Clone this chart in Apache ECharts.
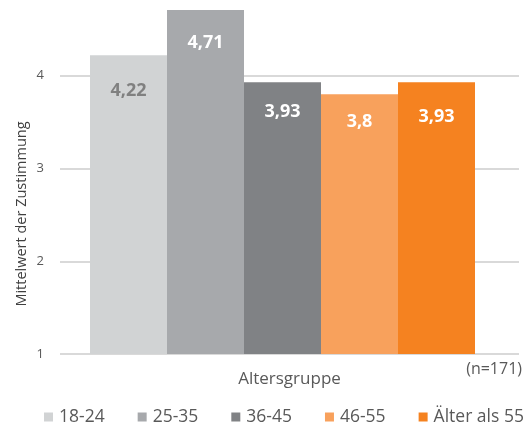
<!DOCTYPE html>
<html>
<head>
<meta charset="utf-8">
<script src="https://cdn.jsdelivr.net/npm/echarts@6/dist/echarts.min.js"></script>
<style>html,body{margin:0;padding:0;background:#fff}#c{width:532px;height:428px}</style>
</head>
<body>
<div id="c"></div>
<script>
const categories = ['Altersgruppe'];
const groups = ['18-24', '25-35', '36-45', '46-55', 'Älter als 55'];
const values = [4.22, 4.71, 3.93, 3.8, 3.93];
const colors = ['#D1D3D4', '#A7A9AC', '#808285', '#F8A15C', '#F58220'];
const labelColors = ['#808080', '#ffffff', '#ffffff', '#ffffff', '#ffffff'];
const labelDistances = [27, 24, 21, 19, 26];
const yMin = 1;
const yMax = 4.72;
const note = '(n=171)';
const yName = 'Mittelwert der Zustimmung';
const FONT = '"Open Sans", sans-serif';

const series = groups.map((g, i) => ({
  name: g,
  type: 'bar',
  barWidth: 77,
  barGap: 0,
  data: [values[i]],
  itemStyle: { color: colors[i] },
  label: {
    show: true,
    position: 'insideTop',
    distance: labelDistances[i],
    color: labelColors[i],
    fontFamily: FONT,
    fontWeight: 'bold',
    fontSize: 18,
    formatter: p => String(p.value).replace('.', ',')
  }
}));
// spacer series (no data) to reproduce the slight left offset of the bar group
series.push({ name: '_spacer', type: 'bar', barWidth: 14, barGap: 0, data: [null], silent: true });

const chart = echarts.init(document.getElementById('c'), null, { renderer: 'canvas' });
chart.setOption({
  animation: false,
  backgroundColor: '#fff',
  grid: { left: 60, right: 13, top: 9, bottom: 74, containLabel: false },
  xAxis: {
    type: 'category',
    data: categories,
    axisLine: { show: false },
    axisTick: { show: false },
    axisLabel: { margin: 17, color: '#595959', fontFamily: FONT, fontSize: 17 }
  },
  yAxis: {
    type: 'value',
    min: yMin,
    max: yMax,
    interval: 1,
    axisLine: { show: false },
    axisTick: { show: false },
    axisLabel: { margin: 16, color: '#595959', fontFamily: FONT, fontSize: 13, showMaxLabel: false },
    splitLine: { showMaxLine: false, lineStyle: { color: '#d9d9d9', width: 2 } }
  },
  legend: {
    data: groups,
    left: 44,
    top: 408,
    padding: 0,
    icon: 'rect',
    itemWidth: 9,
    itemHeight: 9,
    itemGap: 33,
    textStyle: { color: '#595959', fontFamily: FONT, fontSize: 17.5, padding: [0, 0, 0, 1] }
  },
  graphic: [
    {
      type: 'text',
      x: 22, y: 214,
      rotation: Math.PI / 2,
      style: { text: yName, fill: '#404040', font: '14.5px ' + FONT, textAlign: 'center', textVerticalAlign: 'middle' }
    },
    {
      type: 'text',
      right: 10, top: 361,
      style: { text: note, fill: '#595959', font: '16px ' + FONT }
    }
  ],
  series: series
});
</script>
</body>
</html>
